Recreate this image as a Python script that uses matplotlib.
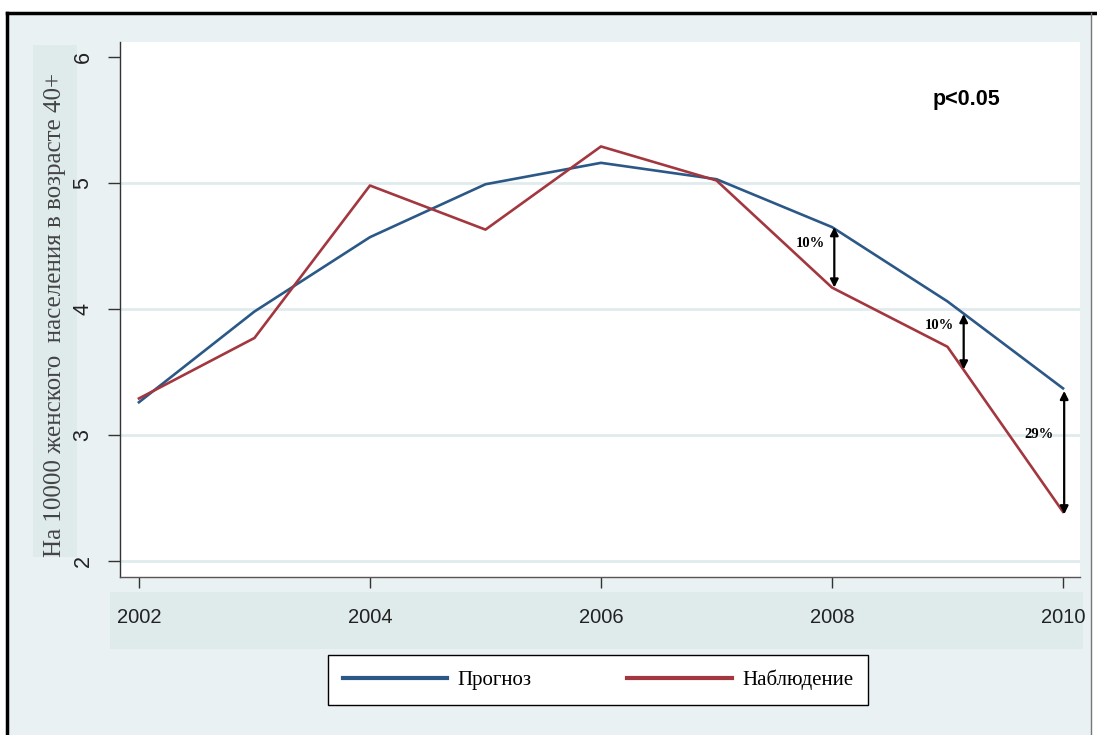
import matplotlib
matplotlib.use("Agg")
import matplotlib.pyplot as plt
from matplotlib.patches import Rectangle

years = [2002, 2003, 2004, 2005, 2006, 2007, 2008, 2009, 2010]
forecast = [3.26, 3.98, 4.57, 4.99, 5.16, 5.03, 4.65, 4.06, 3.37]
observed = [3.29, 3.77, 4.98, 4.63, 5.29, 5.02, 4.17, 3.70, 2.39]
xticks = [2002, 2004, 2006, 2008, 2010]
yticks = [2, 3, 4, 5, 6]
arrow_x = [2008.02, 2009.14, 2010.01]
arrow_top = [4.65, 3.96, 3.35]
arrow_bottom = [4.17, 3.52, 2.37]
arrow_labels = ["10%", "10%", "29%"]
label_x = [2007.81, 2008.93, 2009.79]
label_y = [4.52, 3.87, 3.00]

W, H = 1097, 735
bg = "#e9f1f2"
band = "#dfeaeb"
blue = "#2b5887"
red = "#a3373f"

fig = plt.figure(figsize=(W / 100, H / 100), dpi=100)
fig.patch.set_facecolor("white")

def fx(px):
    return px / W

def fy(py):
    return 1 - py / H

# background inside frame
fig.patches.append(Rectangle((fx(7), fy(740)), fx(1091) - fx(7), fy(13) - fy(740),
                             transform=fig.transFigure, facecolor=bg, edgecolor="none", zorder=0))
# frame lines
fig.add_artist(plt.Line2D([fx(7), fx(7)], [fy(13), fy(735)], transform=fig.transFigure, color="black", lw=2.5))
fig.add_artist(plt.Line2D([fx(7), fx(1097)], [fy(13), fy(13)], transform=fig.transFigure, color="black", lw=2.5))
fig.add_artist(plt.Line2D([fx(1091), fx(1091)], [fy(13), fy(735)], transform=fig.transFigure, color="#777777", lw=1))
# bands
fig.patches.append(Rectangle((fx(33), fy(557)), fx(77) - fx(33), fy(45) - fy(557),
                             transform=fig.transFigure, facecolor=band, edgecolor="none", zorder=0))
fig.patches.append(Rectangle((fx(110), fy(649)), fx(1083) - fx(110), fy(592) - fy(649),
                             transform=fig.transFigure, facecolor=band, edgecolor="none", zorder=0))

ax = fig.add_axes([fx(120), fy(577), fx(1080) - fx(120), fy(42) - fy(577)])
ax.set_zorder(5)
ax.set_facecolor("white")
ax.set_xlim(2001.836, 2010.147)
ax.set_ylim(1.873, 6.119)

for yv in yticks[:-1]:
    ax.axhline(yv, color="#e0ebed", lw=2, zorder=1)

ax.plot(years, forecast, color=blue, lw=1.9, zorder=3, label="Прогноз")
ax.plot(years, observed, color=red, lw=1.9, zorder=3, label="Наблюдение")

for xa, t, b in zip(arrow_x, arrow_top, arrow_bottom):
    ax.annotate("", xy=(xa, b), xytext=(xa, t),
                arrowprops=dict(arrowstyle="<|-|>", color="black", lw=1.6,
                                mutation_scale=12, shrinkA=0, shrinkB=0), zorder=4)
for lx, ly, lab in zip(label_x, label_y, arrow_labels):
    ax.text(lx, ly, lab, family="Liberation Serif", fontweight="bold", fontsize=10.5,
            ha="center", va="center", zorder=5)

ax.text(2009.16, 5.66, "p<0.05", family="Liberation Sans", fontweight="bold", fontsize=15.5,
        ha="center", va="center")

for s in ["top", "right"]:
    ax.spines[s].set_visible(False)
ax.spines["left"].set_color("#333333")
ax.spines["bottom"].set_color("#555555")
ax.spines["left"].set_linewidth(1)
ax.spines["bottom"].set_linewidth(1)

ax.set_yticks(yticks)
ax.set_yticklabels([str(v) for v in yticks], rotation=90, va="center",
                   family="Liberation Sans", fontsize=15.5, color="#222222")
ax.tick_params(axis="y", length=9, width=1, color="#333333", pad=10)
ax.set_xticks(xticks)
ax.set_xticklabels([str(v) for v in xticks], family="Liberation Sans", fontsize=14.5, color="#222222")
ax.tick_params(axis="x", length=8, width=1, color="#333333", pad=14)

fig.text(fx(55), fy(315), "На 10000 женского  населения в возрасте 40+", rotation=90,
         family="Liberation Serif", fontsize=18, color="#444444", ha="center", va="center")

leg = fig.legend(loc="center", bbox_to_anchor=(fx(598), fy(680)), ncol=2,
                 prop={"family": "Liberation Serif", "size": 15},
                 frameon=True, fancybox=False, edgecolor="black", handlelength=5.0,
                 columnspacing=4.6, borderpad=0.7, handletextpad=0.5, framealpha=1,
                 facecolor="white")
leg.get_frame().set_linewidth(1)
for line in leg.get_lines():
    line.set_linewidth(3)

fig.savefig("out.png", dpi=100, facecolor=fig.get_facecolor())
